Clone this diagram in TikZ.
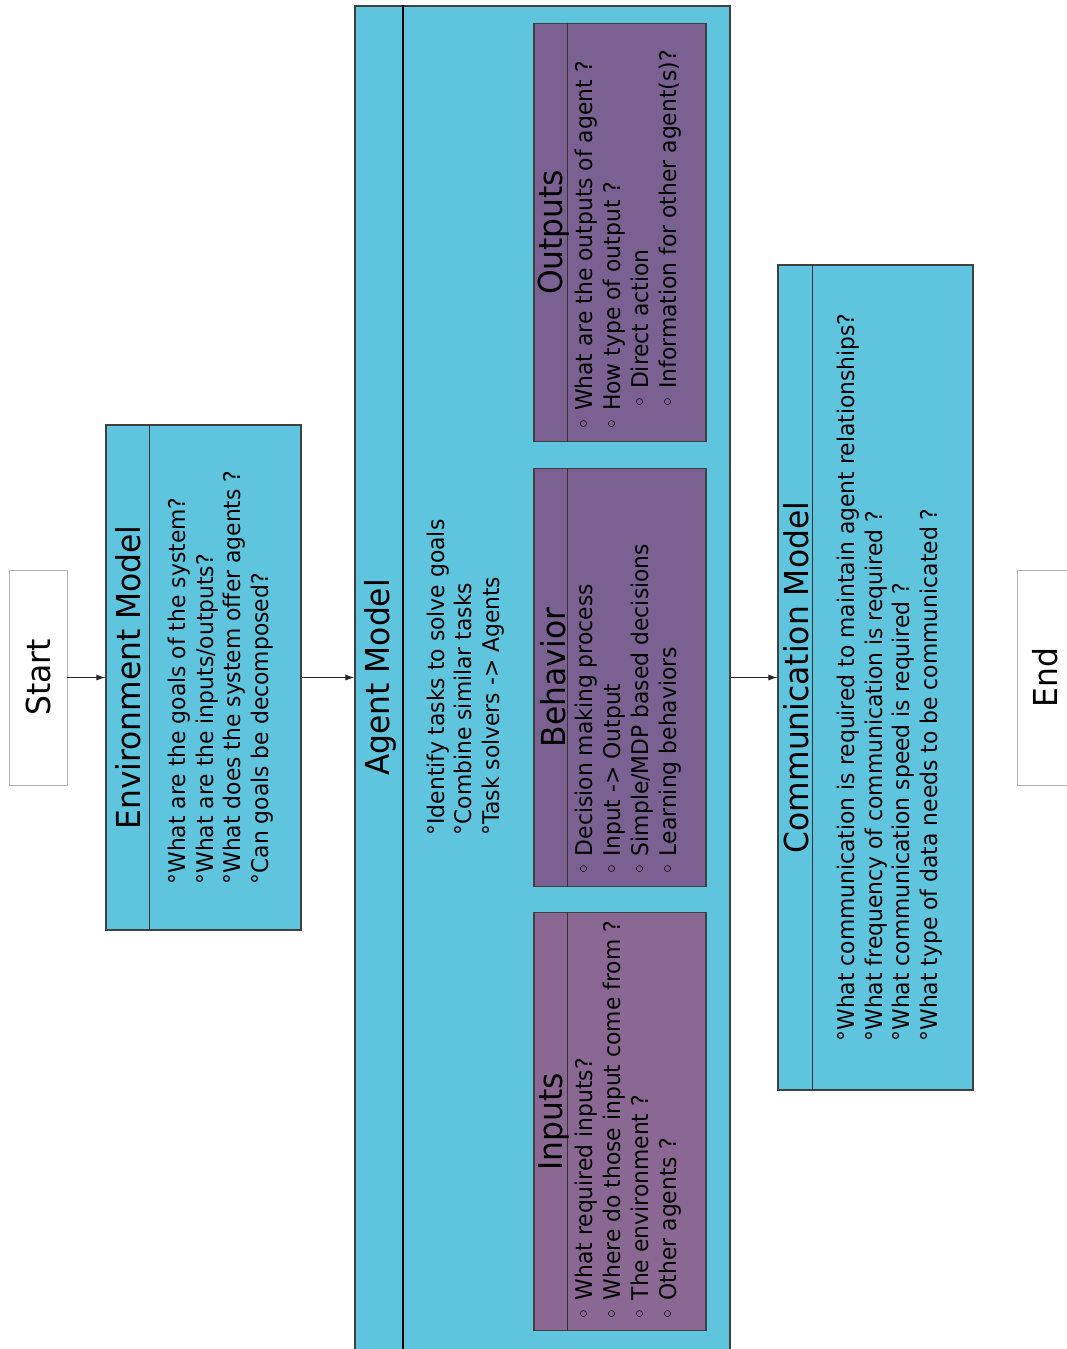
\documentclass[tikz,border=0pt]{standalone}
\usepackage{fontspec}
\setmainfont{DejaVu Sans}[FakeStretch=0.95]
\usetikzlibrary{arrows.meta, positioning}
\definecolor{modelblue}{HTML}{5FC5DE}
\definecolor{subpurple}{HTML}{7B6191}
\definecolor{inpurple}{HTML}{8B6894}

\begin{document}
\begin{tikzpicture}[x=1pt, y=-1pt,
    box/.style={draw=black!75, line width=1.2pt, fill=modelblue, inner sep=0pt},
    subbox/.style={box, fill=subpurple, minimum width=172, minimum height=418},
    term/.style={draw=black!30, line width=0.8pt, fill=white, inner sep=0pt},
    divider/.style={draw=black!80, line width=1.2pt},
    title/.style={rotate=90, inner sep=0pt, font=\fontsize{33}{40}\selectfont},
    body/.style={rotate=90, align=left, inner sep=0pt, font=\fontsize{23}{27.5}\selectfont},
    subbody/.style={body, anchor=west, font=\fontsize{23}{28}\selectfont},
    flow/.style={-{Latex[length=9pt, width=6pt]}, line width=0.9pt, black!85}]
    \useasboundingbox (0,0) rectangle (1067,1349);
    \clip (0,0) rectangle (1067,1349);
    % debut et fin
    \node[term, minimum width=58, minimum height=215] (start) at (38,677.5) {};
    \node[title] at (start) {Start};
    \node[term, minimum width=60, minimum height=215] (stop) at (1047,677.5) {};
    \node[title] at ([xshift=-2pt]stop.center) {End};
    % environment model
    \node[box, minimum width=195, minimum height=505] (env) at (203.5,677.5) {};
    \draw[divider] ([xshift=44pt]env.north west) -- ([xshift=44pt]env.south west);
    \node[title] at ([xshift=23pt]env.west) {Environment Model};
    \node[body] at ([xshift=17pt]env.center) {°What are the goals of the system?\\°What are the inputs/outputs?\\°What does the system offer agents ?\\°Can goals be decomposed?};
    % agent model
    \node[box, minimum width=375, minimum height=1360] (agent) at (542.5,686) {};
    \draw[line width=2pt] ([xshift=49pt]agent.north west) -- ([xshift=49pt]agent.south west);
    \node[title] at ([xshift=26pt]agent.west |- env) {Agent Model};
    \node[body] at ([xshift=111pt]agent.west |- env) {°Identify tasks to solve goals\\°Combine similar tasks\\°Task solvers -> Agents};
    % sous-blocs
    \node[subbox] (behavior) at (620,677.5) {};
    \node[subbox, above=26pt of behavior] (outputs) {};
    \node[subbox, below=25pt of behavior, fill=inpurple] (inputs) {};
    \foreach \blk/\name in {outputs/Outputs, behavior/Behavior, inputs/Inputs} {
        \draw[divider] ([xshift=34pt]\blk.north west) -- ([xshift=34pt]\blk.south west);
        \node[title] at ([xshift=20pt]\blk.west) {\name};
    }
    \node[subbody] at ([xshift=8pt, yshift=11pt]outputs.south) {◦ What are the outputs of agent ?\\◦ How type of output ?\\\hspace*{22pt}◦ Direct action\\\hspace*{22pt}◦ Information for other agent(s)?};
    \node[subbody] at ([xshift=8pt, yshift=11pt]behavior.south) {◦ Decision making process\\◦ Input -> Output\\◦ Simple/MDP based decisions\\◦ Learning behaviors};
    \node[subbody] at ([xshift=8pt, yshift=11pt]inputs.south) {◦ What required inputs?\\◦ Where do those input come from ?\\◦ The environment ?\\◦ Other agents ?};
    % communication model
    \node[box, minimum width=195, minimum height=825] (comm) at (875.5,677.5) {};
    \draw[divider] ([xshift=35pt]comm.north west) -- ([xshift=35pt]comm.south west);
    \node[title] at ([xshift=19pt]comm.west) {Communication Model};
    \node[body] at ([xshift=14pt]comm.center) {°What communication is required to maintain agent relationships?\\°What frequency of communication is required ?\\°What communication speed is required ?\\°What type of data needs to be communicated ?};
    % fleches
    \draw[flow] (start.east) -- (env.west);
    \draw[flow] (env.east) -- (env.east -| agent.west);
    \draw[flow] (agent.east |- env) -- (comm.west);
\end{tikzpicture}
\end{document}
